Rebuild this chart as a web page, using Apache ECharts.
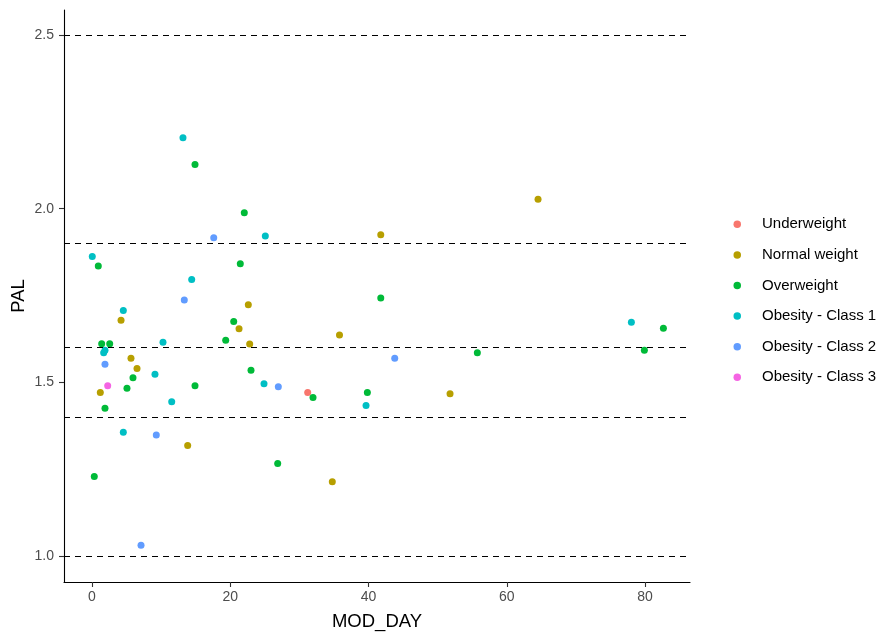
<!DOCTYPE html>
<html>
<head>
<meta charset="utf-8">
<script src="https://cdn.jsdelivr.net/npm/echarts@6/dist/echarts.min.js"></script>
<style>html,body{margin:0;padding:0;background:#fff}#c{width:879px;height:635px}</style>
</head>
<body>
<div id="c"></div>
<script>
// Categories and colours
const categories = ["Underweight", "Normal weight", "Overweight", "Obesity - Class 1", "Obesity - Class 2", "Obesity - Class 3"];
const colors = ["#F8766D", "#B79F00", "#00BA38", "#00BFC4", "#619CFF", "#F564E3"];

// [MOD_DAY, PAL] per category
const underweight = [[31.2, 1.471]];
const normalWeight = [
  [4.2, 1.679], [21.27, 1.654], [5.64, 1.569], [6.51, 1.540], [1.2, 1.471],
  [13.84, 1.318], [22.61, 1.723], [22.81, 1.610], [35.8, 1.636], [34.76, 1.214],
  [64.52, 2.027], [41.77, 1.925], [51.79, 1.467]
];
const overweight = [
  [14.9, 2.127], [0.91, 1.835], [21.45, 1.841], [22.03, 1.988], [20.5, 1.675],
  [19.34, 1.621], [1.4, 1.611], [2.56, 1.611], [5.93, 1.513], [14.9, 1.490],
  [5.06, 1.483], [1.88, 1.425], [0.33, 1.229], [23.0, 1.535], [31.97, 1.456],
  [26.86, 1.266], [41.77, 1.743], [82.65, 1.656], [79.9, 1.592], [55.74, 1.585],
  [39.83, 1.471]
];
const obesity1 = [
  [13.16, 2.204], [0.04, 1.862], [25.07, 1.921], [14.42, 1.796], [4.53, 1.707],
  [10.27, 1.615], [1.88, 1.592], [1.69, 1.585], [9.11, 1.523], [11.53, 1.444],
  [4.53, 1.356], [24.88, 1.496], [78.02, 1.673], [39.64, 1.433]
];
const obesity2 = [
  [17.61, 1.916], [13.35, 1.737], [1.88, 1.552], [9.3, 1.348], [7.09, 1.031],
  [26.95, 1.487], [43.79, 1.569]
];
const obesity3 = [[2.27, 1.49]];

const xTicks = [0, 20, 40, 60, 80];
const yTicks = [1.0, 1.5, 2.0, 2.5];
const refLines = [1.0, 1.4, 1.6, 1.9, 2.5];

const seriesData = [underweight, normalWeight, overweight, obesity1, obesity2, obesity3];
const FONT = "'Liberation Sans', Arial, sans-serif";

const series = categories.map((name, i) => ({
  name: name,
  type: 'scatter',
  data: seriesData[i],
  symbol: 'circle',
  symbolSize: 7,
  itemStyle: { color: colors[i], opacity: 1 },
  z: 3
}));
series.push({
  name: '_ref',
  type: 'scatter',
  data: [],
  silent: true,
  markLine: {
    silent: true,
    symbol: ['none', 'none'],
    label: { show: false },
    lineStyle: { color: '#000', type: [6, 5], width: 1.1 },
    data: refLines.map(v => ({ yAxis: v }))
  },
  z: 2
});

const chart = echarts.init(document.getElementById('c'), null, { renderer: 'canvas' });
chart.setOption({
  animation: false,
  backgroundColor: '#fff',
  textStyle: { fontFamily: FONT },
  grid: { left: 64, right: 189, top: 10, bottom: 53, containLabel: false, outerBoundsMode: 'none' },
  legend: {
    data: categories,
    orient: 'vertical',
    left: 728.5,
    top: 211.8,
    icon: 'circle',
    itemWidth: 7.5,
    itemHeight: 7.5,
    itemGap: 15.6,
    textStyle: { fontFamily: FONT, fontSize: 15, color: '#000', padding: [0, 0, 0, 16] }
  },
  xAxis: {
    type: 'value',
    min: -4.05,
    max: 86.5,
    name: 'MOD_DAY',
    nameLocation: 'middle',
    nameGap: 30,
    nameMoveOverlap: false,
    nameTextStyle: { fontFamily: FONT, fontSize: 18.5, color: '#000' },
    axisLine: { show: true, onZero: false, lineStyle: { color: '#000', width: 1.1 } },
    axisTick: { show: true, length: 5, customValues: xTicks, lineStyle: { color: '#333', width: 1.1 } },
    axisLabel: { customValues: xTicks, color: '#4D4D4D', fontSize: 14, margin: 8, fontFamily: FONT },
    splitLine: { show: false }
  },
  yAxis: {
    type: 'value',
    min: 0.925,
    max: 2.572,
    name: 'PAL',
    nameLocation: 'middle',
    nameGap: 36,
    nameMoveOverlap: false,
    nameTextStyle: { fontFamily: FONT, fontSize: 18.5, color: '#000' },
    axisLine: { show: true, onZero: false, lineStyle: { color: '#000', width: 1.1 } },
    axisTick: { show: true, length: 5, customValues: yTicks, lineStyle: { color: '#333', width: 1.1 } },
    axisLabel: { customValues: yTicks, color: '#4D4D4D', fontSize: 14, margin: 10, fontFamily: FONT,
      formatter: v => Number(v).toFixed(1) },
    splitLine: { show: false }
  },
  series: series
});
</script>
</body>
</html>
